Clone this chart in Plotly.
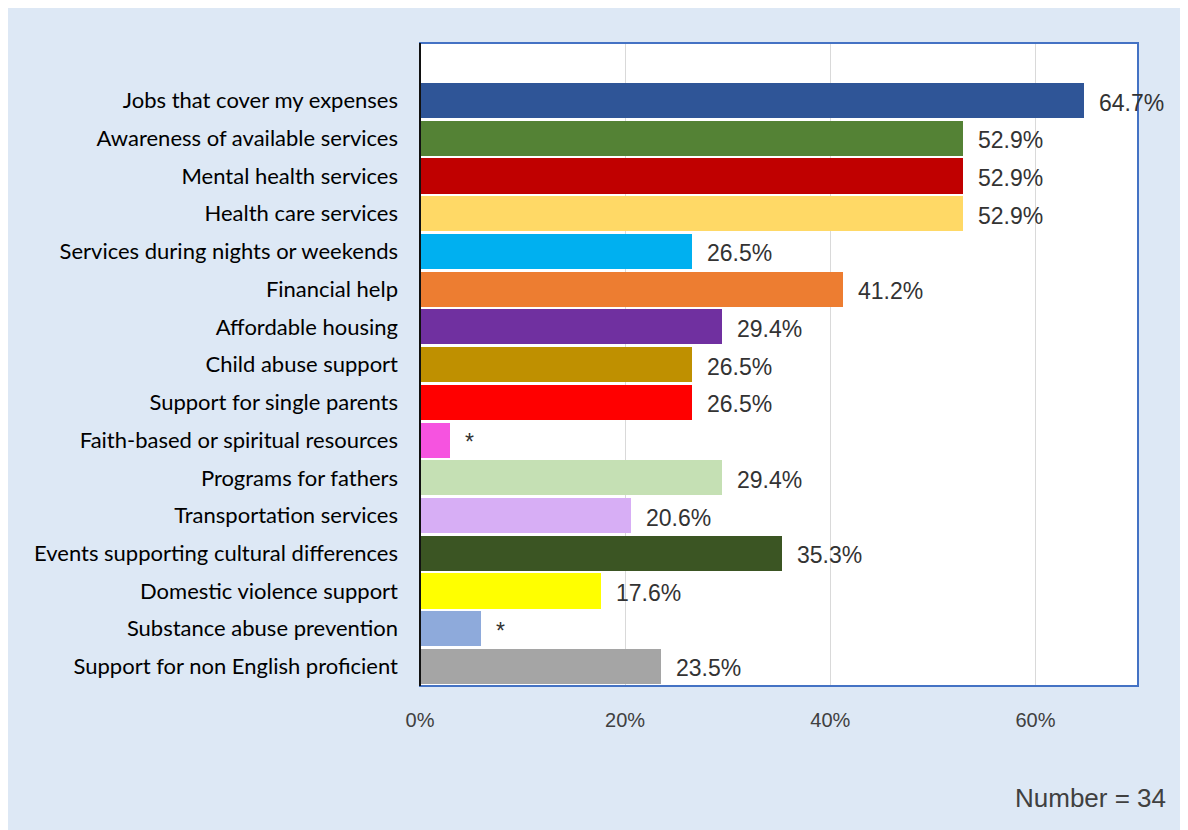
import plotly.graph_objects as go

categories = [
    "Jobs that cover my expenses",
    "Awareness of available services",
    "Mental health services",
    "Health care services",
    "Services during nights or weekends",
    "Financial help",
    "Affordable housing",
    "Child abuse support",
    "Support for single parents",
    "Faith-based or spiritual resources",
    "Programs for fathers",
    "Transportation services",
    "Events supporting cultural differences",
    "Domestic violence support",
    "Substance abuse prevention",
    "Support for non English proficient",
]
values = [64.7, 52.9, 52.9, 52.9, 26.5, 41.2, 29.4, 26.5, 26.5, 2.9, 29.4, 20.6, 35.3, 17.6, 5.9, 23.5]
labels = ["64.7%", "52.9%", "52.9%", "52.9%", "26.5%", "41.2%", "29.4%", "26.5%", "26.5%", "*",
          "29.4%", "20.6%", "35.3%", "17.6%", "*", "23.5%"]
colors = ["#2f5597", "#548235", "#c00000", "#ffd966", "#00b0f0", "#ed7d31", "#7030a0", "#bf9000",
          "#ff0000", "#f653e0", "#c5e0b4", "#d7aef5", "#3b5523", "#ffff00", "#8eaadb", "#a5a5a5"]
tick_vals = [0, 20, 40, 60]
tick_text = ["0%", "20%", "40%", "60%"]

fig = go.Figure()
fig.add_trace(go.Bar(
    x=values,
    y=categories,
    orientation="h",
    marker=dict(color=colors, line=dict(width=0)),
    width=0.93,
    hoverinfo="skip",
))

for v, c, t in zip(values, categories, labels):
    fig.add_annotation(x=v, y=c, text=t, showarrow=False, xanchor="left", xshift=13, yshift=-2,
                       font=dict(family="Liberation Sans, Arial", size=23, color="#333333"))

fig.add_annotation(xref="paper", yref="paper", x=1.042, y=-0.174, text="Number = 34",
                   showarrow=False, xanchor="right", yanchor="middle",
                   font=dict(family="Liberation Sans, Arial", size=26, color="#404040"))

# plot border
fig.add_shape(type="rect", xref="paper", yref="paper", x0=0, x1=1, y0=0, y1=1,
              line=dict(color="#4472c4", width=2), layer="above")
fig.add_shape(type="line", xref="paper", yref="paper", x0=0, x1=0, y0=0, y1=1,
              line=dict(color="#111111", width=2), layer="above")

fig.update_layout(
    width=1180, height=822,
    margin=dict(l=412, r=50, t=35, b=144),
    paper_bgcolor="#dde8f5",
    plot_bgcolor="#ffffff",
    showlegend=False,
    bargap=0,
)
fig.update_xaxes(range=[0, 70], tickvals=tick_vals, ticktext=tick_text,
                 showgrid=True, gridcolor="#d9d9d9", gridwidth=1, zeroline=False,
                 showline=False, ticks="", ticklabelstandoff=20,
                 tickfont=dict(family="Liberation Sans, Arial", size=20, color="#404040"))
fig.update_yaxes(type="category", categoryorder="array", categoryarray=categories,
                 range=[15.517, -1.524], showgrid=False, zeroline=False, showline=False,
                 ticks="", ticklabelstandoff=21,
                 tickfont=dict(family="Lato, Carlito, Calibri", size=22, color="#000000"))

fig.write_html("out.html")
